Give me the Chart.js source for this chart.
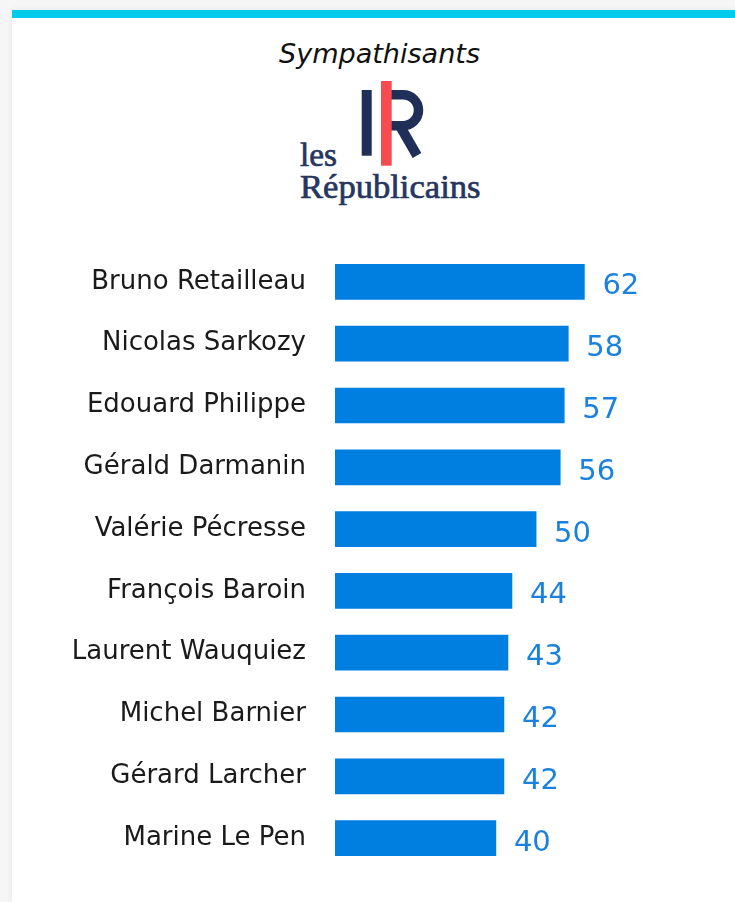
<!DOCTYPE html>
<html>
<head>
<meta charset="utf-8">
<script src="https://cdn.jsdelivr.net/npm/chart.js@4.4.1/dist/chart.umd.min.js"></script>
<style>
  html, body { margin: 0; padding: 0; }
  body { width: 735px; height: 902px; background: #f6f6f6; position: relative; overflow: hidden; }
  #card { position: absolute; left: 12px; top: 10px; right: 0; bottom: 0; background: #ffffff; box-shadow: 0 0 6px rgba(0,0,0,0.07); }
  #topbar { position: absolute; left: 12px; top: 10px; width: 723px; height: 8px; background: #00cbea; }
  #header { position: absolute; left: 0; top: 0; }
  #chart { position: absolute; left: 0; top: 0; }
</style>
</head>
<body>
<div id="card"></div>
<div id="topbar"></div>
<svg id="header" width="735" height="220" xmlns="http://www.w3.org/2000/svg">
  <text x="379.5" y="63" text-anchor="middle" textLength="201" lengthAdjust="spacingAndGlyphs"
        font-family="DejaVu Sans" font-style="italic" font-size="27" fill="#111111">Sympathisants</text>
  <rect x="361.7" y="90" width="10" height="65.7" fill="#1f2f57"/>
  <path d="M 390 94.7 H 403 A 15.5 15.5 0 0 1 403 125.7 H 390" fill="none" stroke="#1f2f57" stroke-width="9.5"/>
  <path d="M 400 126 L 417 155.5" fill="none" stroke="#1f2f57" stroke-width="10"/>
  <rect x="381" y="81" width="10.7" height="84.7" fill="#f64b4f"/>
  <text x="300" y="165.7" textLength="37" lengthAdjust="spacingAndGlyphs"
        font-family="Liberation Serif" font-size="34" fill="#26365f" stroke="#26365f" stroke-width="0.7">les</text>
  <text x="300" y="198.3" textLength="180.5" lengthAdjust="spacingAndGlyphs"
        font-family="Liberation Serif" font-size="34" fill="#26365f" stroke="#26365f" stroke-width="0.7">Républicains</text>
</svg>
<canvas id="chart" width="735" height="902"></canvas>
<script>
const categories = [
  "Bruno Retailleau",
  "Nicolas Sarkozy",
  "Edouard Philippe",
  "Gérald Darmanin",
  "Valérie Pécresse",
  "François Baroin",
  "Laurent Wauquiez",
  "Michel Barnier",
  "Gérard Larcher",
  "Marine Le Pen"
];
const values = [62, 58, 57, 56, 50, 44, 43, 42, 42, 40];
const axisMin = 0;
const axisMax = 90;

const valueLabels = {
  id: 'valueLabels',
  afterDatasetsDraw(chart) {
    const ctx = chart.ctx;
    const meta = chart.getDatasetMeta(0);
    ctx.save();
    ctx.font = '29px "DejaVu Sans"';
    ctx.fillStyle = '#1a82de';
    ctx.textAlign = 'left';
    ctx.textBaseline = 'alphabetic';
    meta.data.forEach((bar, i) => {
      ctx.fillText(String(values[i]), bar.x + 18, bar.y + 12.5);
    });
    ctx.restore();
  }
};

new Chart(document.getElementById('chart'), {
  type: 'bar',
  data: {
    labels: categories,
    datasets: [{
      data: values,
      backgroundColor: '#007fe0',
      borderWidth: 0,
      barThickness: 35
    }]
  },
  options: {
    indexAxis: 'y',
    responsive: false,
    animation: false,
    devicePixelRatio: 1,
    layout: { padding: { top: 251, bottom: 33, left: 0, right: 38 } },
    plugins: { legend: { display: false }, tooltip: { enabled: false }, title: { display: false } },
    scales: {
      x: { min: axisMin, max: axisMax, display: false },
      y: {
        grid: { display: false, drawTicks: true, tickLength: 29 },
        border: { display: false },
        ticks: {
          color: '#1a1a1a',
          font: { family: 'DejaVu Sans', size: 26 },
          padding: 0
        },
        afterFit(scale) { scale.width = 335; }
      }
    }
  },
  plugins: [valueLabels]
});
</script>
</body>
</html>
